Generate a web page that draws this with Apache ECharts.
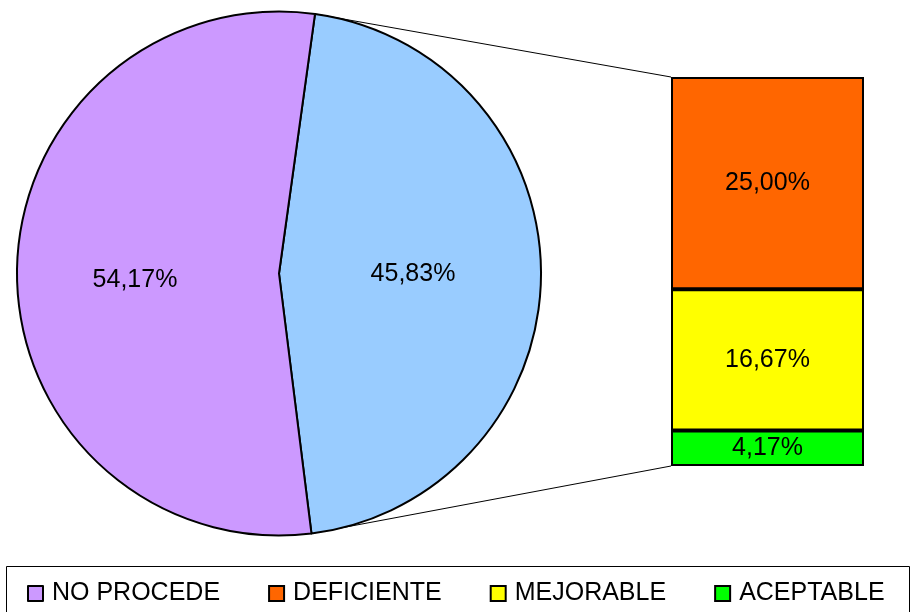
<!DOCTYPE html>
<html>
<head>
<meta charset="utf-8">
<script src="https://cdn.jsdelivr.net/npm/echarts@6/dist/echarts.min.js"></script>
<style>
  html, body { margin: 0; padding: 0; background: #fff; }
  #chart { width: 913px; height: 612px; }
</style>
</head>
<body>
<div id="chart"></div>
<script>
// Pie: the aggregated group (broken out in the bar) and NO PROCEDE
const pieNames = ['OTROS', 'NO PROCEDE'];
const pieValues = [45.83, 54.17];
const pieColors = ['#99CCFF', '#CC99FF'];

// Breakdown bar, stacked bottom to top
const barNames = ['ACEPTABLE', 'MEJORABLE', 'DEFICIENTE'];
const barValues = [4.17, 16.67, 25.00];
const barColors = ['#00FF00', '#FFFF00', '#FF6600'];

const legendNames = ['NO PROCEDE', 'DEFICIENTE', 'MEJORABLE', 'ACEPTABLE'];

const FONT = '"Liberation Sans", Arial, sans-serif';
const pct = v => v.toFixed(2).replace('.', ',') + '%';
const barTotal = barValues.reduce((a, b) => a + b, 0);

const chart = echarts.init(document.getElementById('chart'), null, { renderer: 'canvas' });

const series = [{
  type: 'pie',
  center: [279, 273.5],
  radius: 262,
  startAngle: 82.1,
  clockwise: true,
  silent: true,
  itemStyle: { borderColor: '#000', borderWidth: 2 },
  label: {
    show: true, position: 'inside',
    formatter: p => pct(p.value),
    color: '#000', fontSize: 25, fontFamily: FONT
  },
  labelLine: { show: false },
  emphasis: { disabled: true },
  data: pieNames.map((n, i) => ({
    name: n, value: pieValues[i],
    itemStyle: { color: pieColors[i] },
    label: i === 1 ? { offset: [-10, 8] } : {}
  }))
}];

barNames.forEach((n, i) => {
  series.push({
    type: 'bar',
    name: n,
    stack: 'desglose',
    barWidth: '100%',
    silent: true,
    itemStyle: { color: barColors[i], borderColor: '#000', borderWidth: 2 },
    label: {
      show: true, position: 'inside',
      formatter: p => pct(p.value),
      color: '#000', fontSize: 25, fontFamily: FONT
    },
    emphasis: { disabled: true },
    data: [barValues[i]]
  });
});

chart.setOption({
  animation: false,
  backgroundColor: '#fff',
  grid: { left: 671, right: 49, top: 77, bottom: 146, show: true, backgroundColor: '#000', borderWidth: 0 },
  xAxis: { type: 'category', data: [''], show: false },
  yAxis: { type: 'value', min: 0, max: barTotal, show: false },
  legend: {
    data: legendNames,
    left: 22, top: 576,
    itemWidth: 15, itemHeight: 15, itemGap: 48,
    icon: 'rect',
    selectedMode: false,
    itemStyle: { borderColor: '#000', borderWidth: 2 },
    textStyle: { color: '#000', fontSize: 25, fontFamily: FONT, padding: [0, 0, 0, 4] }
  },
  series: series
});

// Connector lines from the broken-out slice edges to the bar, plus legend frame
function drawExtras() {
  const pieData = chart.getModel().getSeriesByIndex(0).getData();
  const sl = pieData.getItemLayout(0);
  const p1 = [sl.cx + sl.r * Math.cos(sl.startAngle), sl.cy + sl.r * Math.sin(sl.startAngle)];
  const p2 = [sl.cx + sl.r * Math.cos(sl.endAngle), sl.cy + sl.r * Math.sin(sl.endAngle)];
  const topRect = chart.getModel().getSeriesByIndex(barNames.length).getData().getItemLayout(0);
  const botRect = chart.getModel().getSeriesByIndex(1).getData().getItemLayout(0);
  const topY = Math.min(topRect.y, topRect.y + topRect.height);
  const botY = Math.max(botRect.y, botRect.y + botRect.height);
  const leftX = topRect.x;
  chart.setOption({
    graphic: [
      { type: 'line', shape: { x1: p1[0], y1: p1[1], x2: leftX, y2: topY }, style: { stroke: '#000', lineWidth: 1 }, z: 1 },
      { type: 'line', shape: { x1: p2[0], y1: p2[1], x2: leftX, y2: botY }, style: { stroke: '#000', lineWidth: 1 }, z: 1 },
      { type: 'rect', shape: { x: 6.5, y: 566.5, width: 903, height: 60 }, style: { fill: 'none', stroke: '#000', lineWidth: 1 }, z: 0 }
    ]
  });
}
drawExtras();
</script>
</body>
</html>
